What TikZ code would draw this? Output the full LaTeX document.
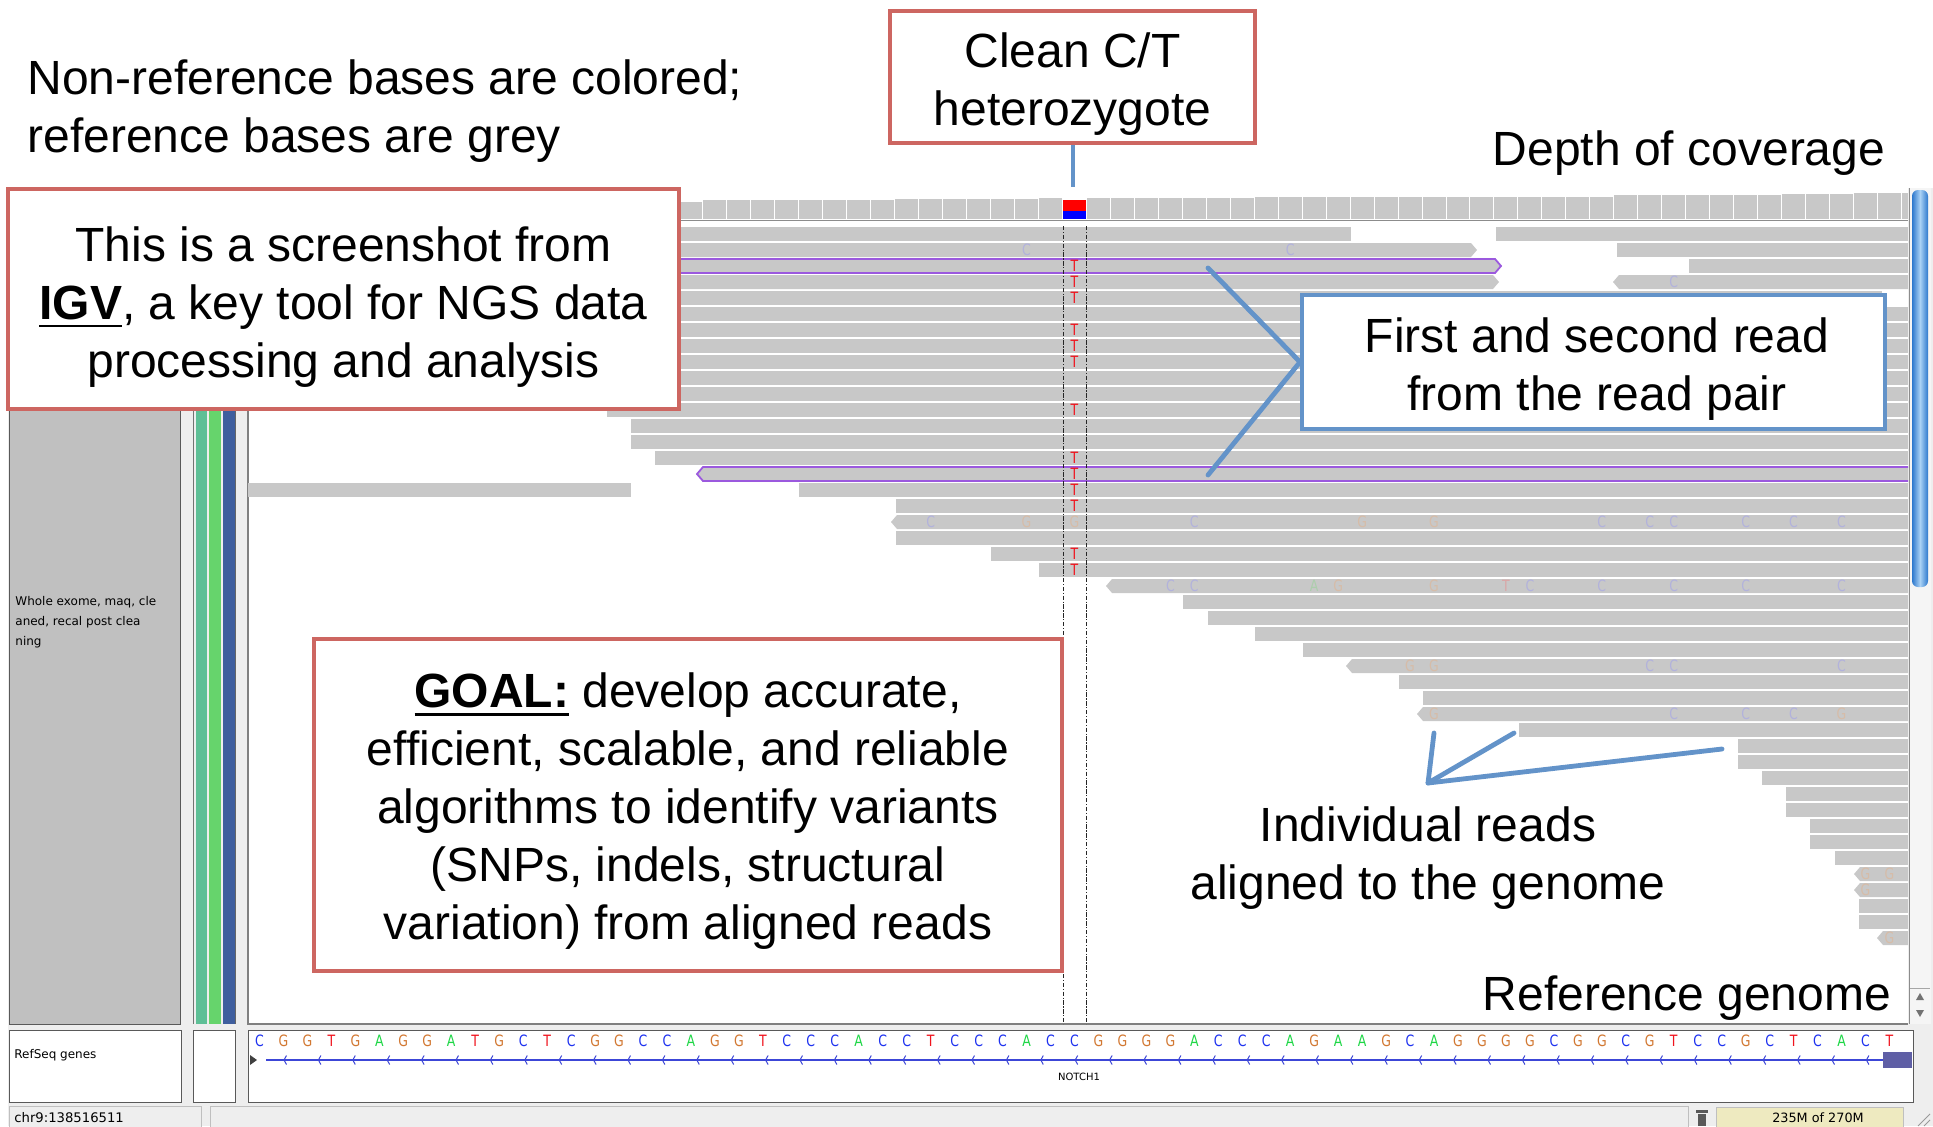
\documentclass[tikz,border=0pt]{standalone}
\usepackage{fontspec}
\setmainfont{Liberation Sans}
\newfontfamily\igvfont{DejaVu Sans}
\newfontfamily\basesfont[FakeStretch=0.8]{DejaVu Sans}

\definecolor{boxred}{RGB}{205,102,97}
\definecolor{boxblue}{RGB}{99,147,201}
\definecolor{readgray}{RGB}{200,200,200}
\definecolor{pairpurple}{RGB}{155,89,222}
\definecolor{igvbg}{RGB}{238,238,238}
\definecolor{namegray}{RGB}{192,192,192}
\definecolor{stripteal}{RGB}{94,191,150}
\definecolor{stripgreen}{RGB}{102,212,108}
\definecolor{stripblue}{RGB}{63,94,158}
\definecolor{baseA}{RGB}{30,215,70}
\definecolor{baseC}{RGB}{30,50,240}
\definecolor{baseG}{RGB}{210,120,50}
\definecolor{baseT}{RGB}{240,20,30}
\definecolor{faintA}{RGB}{172,206,172}
\definecolor{faintC}{RGB}{178,178,220}
\definecolor{faintG}{RGB}{214,188,168}
\definecolor{faintT}{RGB}{218,166,166}
\definecolor{geneblue}{RGB}{60,70,215}
\definecolor{genebox}{RGB}{95,95,165}
\definecolor{memyellow}{RGB}{238,234,192}
\definecolor{thumbdark}{RGB}{45,120,205}
\definecolor{thumblight}{RGB}{170,210,245}

\newsavebox\ulbox
\newcommand\thickul[1]{\sbox\ulbox{#1}\rlap{\rule[-4pt]{\wd\ulbox}{1.4pt}}\usebox\ulbox}

% one aligned read: row number, left x, right x
\newcommand\readN[3]{\fill[readgray] (#2,{211+16*#1}) rectangle (#3,{225+16*#1});}
\newcommand\readL[3]{\fill[readgray] (#2,{218+16*#1}) -- ({#2+6},{211+16*#1}) -- (#3,{211+16*#1}) -- (#3,{225+16*#1}) -- ({#2+6},{225+16*#1}) -- cycle;}
\newcommand\readR[3]{\fill[readgray] (#2,{211+16*#1}) -- ({#3-6},{211+16*#1}) -- (#3,{218+16*#1}) -- ({#3-6},{225+16*#1}) -- (#2,{225+16*#1}) -- cycle;}

\tikzset{
  annot/.style={inner sep=0pt, align=center, font=\fontsize{24}{29}\selectfont},
  redbox/.style={draw=boxred, line width=2.2pt, fill=white, inner sep=0pt},
  bluebox/.style={draw=boxblue, line width=2pt, fill=white, inner sep=0pt},
  pointer/.style={draw=boxblue, line width=2.4pt, line cap=round, line join=round},
  basefont/.style={inner sep=0pt, font=\basesfont\fontsize{7.8}{8}\selectfont},
  igvlabel/.style={inner sep=0pt, font=\igvfont\fontsize{6}{10}\selectfont, align=left},
  panelframe/.style={draw=black!65, line width=0.5pt},
  siteguide/.style={draw=black!85, line width=0.45pt, dash pattern=on 2.2pt off 0.8pt on 0.6pt off 0.8pt},
}

\begin{document}
\begin{tikzpicture}[x=0.5pt, y=-0.5pt]
\useasboundingbox (0,0) rectangle (1933,1126);
\fill[white] (0,0) rectangle (1933,1126);

% ---------- IGV window ----------
\fill[igvbg] (8,188) rectangle (1933,1126);
% track name panel and attribute strips
\filldraw[fill=namegray, panelframe] (9,188) rectangle (180,1024);
\draw[black!55, line width=0.5pt] (193,188) -- (193,1024);
\fill[stripteal] (196,188) rectangle (207,1024);
\fill[stripgreen] (209,188) rectangle (221,1024);
\fill[stripblue] (223,188) rectangle (235,1024);
\draw[black!60, line width=0.5pt] (235.5,188) -- (235.5,1024);
% data panel
\fill[white] (248,188) rectangle (1908,1024);
\draw[black!50, line width=0.6pt] (248,188) -- (248,1024) -- (1908,1024);
\node[igvlabel, anchor=north west] (trackname) at (15,596) {Whole exome, maq, cle\\aned, recal post clea\\ning};

% coverage track
\foreach \a/\b/\t in {0/18/201.7,19/26/200,27/32/199,33/33/198,35/41/198,42/56/196.7,57/63/195.3,64/66/194.3,67/68/193}{
  \foreach \i in {\a,...,\b}{
    \fill[readgray] ({248+23.97*\i},\t) rectangle ({247+23.97*(\i+1)},219);
  }
}
\fill[readgray] ({248+23.97*69},193) rectangle (1908,219);
\fill[red] (1063,200) rectangle (1086,211);
\fill[blue] (1063,211) rectangle (1086,219);
\draw[black!45, line width=0.6pt] (248,220.5) -- (1908,220.5);

% aligned reads
\foreach \r/\a/\b/\s in {1/248/1351/N, 1/1496/1908/N, 2/248/1477/R, 2/1617/1908/N, 3/1689/1908/N,
  4/248/1499/R, 4/1613/1908/L, 5/248/1882/N, 6/248/1908/N, 7/248/1908/N, 8/248/1908/N,
  9/248/1908/N, 10/248/1908/N, 11/248/1908/N, 12/607/1908/N, 13/631/1908/N, 14/631/1908/N,
  15/655/1908/N, 17/248/631/N, 17/799/1908/N, 18/896/1908/N, 19/891/1908/L, 20/896/1908/N,
  21/991/1908/N, 22/1039/1908/N, 23/1106/1908/L, 24/1183/1908/N, 25/1208/1908/N,
  26/1255/1908/N, 27/1303/1908/N, 28/1346/1908/L, 29/1399/1908/N, 30/1423/1908/N,
  31/1417/1908/L, 32/1519/1908/N, 33/1738/1908/N, 34/1738/1908/N, 35/1762/1908/N,
  36/1786/1908/N, 37/1786/1908/N, 38/1810/1908/N, 39/1810/1908/N, 40/1835/1908/N,
  41/1854/1908/L, 42/1854/1908/L, 43/1859/1908/N, 44/1859/1908/N, 45/1877/1908/L}{
  \csname read\s\endcsname{\r}{\a}{\b}
}
% the two mates of one read pair
\filldraw[fill=readgray, draw=pairpurple, line width=0.9pt]
  (248,259) -- (1495,259) -- (1501,266) -- (1495,273) -- (248,273);
\filldraw[fill=readgray, draw=pairpurple, line width=0.9pt]
  (1908,467) -- (703,467) -- (697,474) -- (703,481) -- (1908,481);

% low-quality mismatches
\foreach \r/\k/\c in {2/32/C, 2/43/C, 4/59/C,
  19/28/C, 19/32/G, 19/34/G, 19/39/C, 19/46/G, 19/49/G, 19/56/C, 19/58/C, 19/59/C, 19/62/C, 19/64/C, 19/66/C,
  23/38/C, 23/39/C, 23/44/A, 23/45/G, 23/49/G, 23/52/T, 23/53/C, 23/56/C, 23/59/C, 23/62/C, 23/66/C,
  28/48/G, 28/49/G, 28/58/C, 28/59/C, 28/66/C,
  31/49/G, 31/59/C, 31/62/C, 31/64/C, 31/66/G,
  41/67/G, 41/68/G, 42/67/G, 45/68/G}{
  \node[basefont, text=faint\c] (f\r x\k) at ({259.5+23.97*\k},{218+16*\r}) {\c};
}
% the T allele of the heterozygous site
\foreach \r in {3,4,5,7,8,9,12,15,16,17,18,21,22}{
  \node[basefont, text=baseT] (t\r) at (1074.5,{218+16*\r}) {T};
}
% centre-line guides around the site
\draw[siteguide] (1063,226) -- (1063,1024);
\draw[siteguide] (1086,226) -- (1086,1024);

% vertical scroll bar
\fill[black!4] (1909,188) rectangle (1931,1024);
\draw[black!45, line width=0.5pt] (1909,188) -- (1909,1024);
\shade[rounded corners=3pt, left color=thumbdark, right color=thumbdark, middle color=thumblight]
  (1912,190) rectangle (1928,587);
\fill[black!55] (1916,1000) -- (1920,993) -- (1924,1000) -- cycle;
\fill[black!55] (1916,1010) -- (1924,1010) -- (1920,1017) -- cycle;
\draw[black!35, line width=0.4pt] (1910,988) -- (1930,988);

% RefSeq genes track
\filldraw[fill=white, panelframe] (9,1030) rectangle (181,1102);
\filldraw[fill=white, panelframe] (193,1030) rectangle (235,1102);
\filldraw[fill=white, panelframe] (248,1030) rectangle (1913,1102);
\node[igvlabel, anchor=west] (refseqname) at (14,1055) {RefSeq genes};
\foreach \c [count=\k from 0] in {C,G,G,T,G,A,G,G,A,T,G,C,T,C,G,G,C,C,A,G,G,T,C,C,C,A,C,C,T,C,C,C,A,C,C,G,G,G,G,A,C,C,C,A,G,A,A,G,C,A,G,G,G,G,C,G,G,C,G,T,C,C,G,C,T,C,A,C,T}{
  \node[basefont, text=base\c] (b\k) at ({259.5+23.97*\k},1041) {\c};
}
\fill[black!75] (250,1055) -- (257,1060) -- (250,1065) -- cycle;
\draw[geneblue, line width=0.9pt] (266,1060) -- (1884,1060);
\foreach \k in {0,...,46}{
  \draw[geneblue, line width=0.5pt] ({286.5+34.4*\k},1055.5) -- ({284+34.4*\k},1060) -- ({286.5+34.4*\k},1064.5);
}
\fill[genebox] (1883,1052) rectangle (1912,1068);
\node[inner sep=0pt, font=\igvfont\fontsize{5}{6}\selectfont] (gene) at (1079,1077) {NOTCH1};

% status bar
\filldraw[fill=igvbg, draw=black!25, line width=0.5pt] (9,1106) rectangle (201,1130);
\filldraw[fill=igvbg, draw=black!25, line width=0.5pt] (210,1106) rectangle (1688,1130);
\node[inner sep=0pt, anchor=west, font=\igvfont\fontsize{6.6}{8}\selectfont] (locus) at (14,1118) {chr9:138516511};
\fill[black!65] (1698,1114) rectangle (1706,1126);
\fill[black!65] (1696,1110) rectangle (1708,1112.5);
\filldraw[fill=memyellow, draw=black!25, line width=0.5pt] (1716,1107) rectangle (1903,1130);
\node[inner sep=0pt, font=\igvfont\fontsize{6.4}{8}\selectfont] (memory) at (1818,1118) {235M of 270M};
\draw[black!40, line width=0.5pt] (1918,1126) -- (1930,1114) (1924,1126) -- (1930,1120);

% ---------- annotations ----------
\node[annot, anchor=west, align=left] (note) at (27,111) {Non-reference bases are colored;\\reference bases are grey};

\node[redbox, minimum width=182.5pt, minimum height=66pt] (ctbox) at (1072.5,77) {};
\node[annot] (cttext) at (1072.5,84) {Clean C/T\\heterozygote};
\coordinate (snp) at (1072.5,187);
\draw[pointer, line width=2pt, line cap=butt] (ctbox.south) -- (snp);

\node[annot, anchor=base] (depth) at (1689,165) {Depth of coverage};

\node[redbox, minimum width=335.5pt, minimum height=110pt] (scrbox) at (343.5,299) {};
\node[annot] (scrtext) at (343.5,307) {This is a screenshot from\\\thickul{\textbf{IGV}}, a key tool for NGS data\\processing and analysis};

\node[bluebox, minimum width=291.5pt, minimum height=67pt] (pairbox) at (1593.5,362) {};
\node[annot] (pairtext) at (1597,369.5) {First and second read\\from the read pair};
\coordinate (mate1) at (1208,268);
\coordinate (mate2) at (1208,475);
\draw[pointer] (mate1) -- (pairbox.west) -- (mate2);

\node[redbox, minimum width=374pt, minimum height=166pt] (goalbox) at (688,805) {};
\node[annot] (goaltext) at (688,811.5) {\thickul{\textbf{GOAL:}} develop accurate,\\efficient, scalable, and reliable\\algorithms to identify variants\\(SNPs, indels, structural\\variation) from aligned reads};

\coordinate (rv) at (1428,783);
\coordinate (ra) at (1434,733);
\coordinate (rb) at (1514,733);
\coordinate (rc) at (1722,749);
\draw[pointer] (ra) -- (rv) -- (rc);
\draw[pointer] (rb) -- (rv);
\node[annot] (readtext) at (1428,858) {Individual reads\\aligned to the genome};

\node[annot, anchor=base] (refgtext) at (1687,1010) {Reference genome};
\end{tikzpicture}
\end{document}
